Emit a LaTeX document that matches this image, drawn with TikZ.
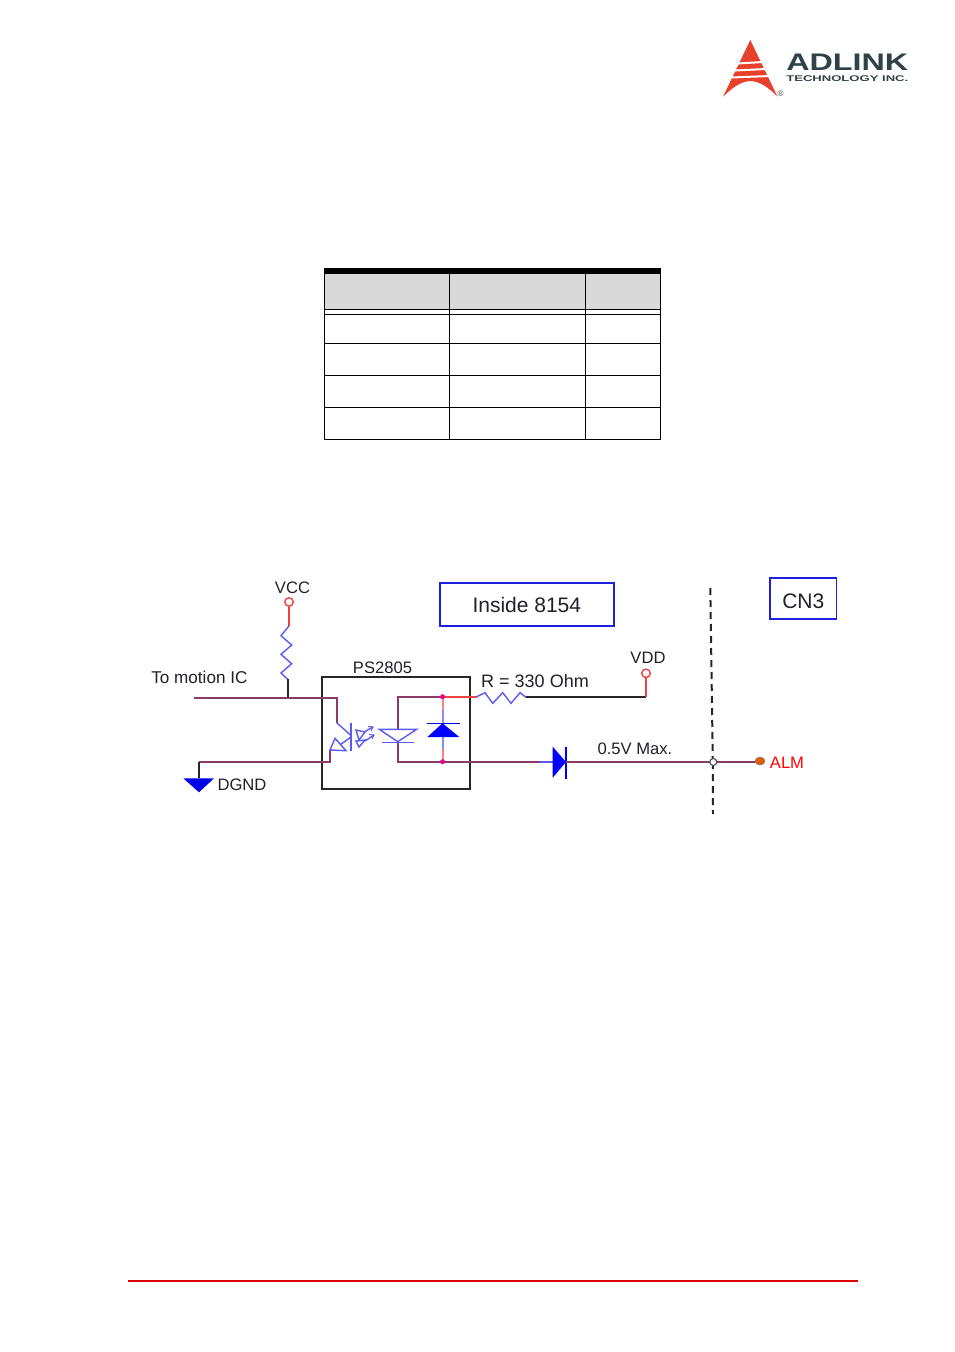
\documentclass[tikz,border=0pt]{standalone}
\usepackage{fontspec}
\usetikzlibrary{shapes.geometric}
\setmainfont{Liberation Sans}
\definecolor{wire}{HTML}{8B3A6B}
\definecolor{part}{HTML}{5A5AF0}
\definecolor{lead}{HTML}{F04040}
\definecolor{boxblue}{HTML}{2020E0}
\definecolor{ink}{HTML}{20202C}
\definecolor{logored}{HTML}{E8402C}
\definecolor{logodark}{HTML}{2F4248}
\begin{document}
\begin{tikzpicture}[x=1pt,y=-1pt,
    txt/.style={font=\fontsize{16.6}{18}\selectfont,text=ink,inner sep=0pt},
    titlebox/.style={draw=boxblue,line width=1.5pt,font=\fontsize{21}{24}\selectfont,text=ink,inner sep=0pt},
    terminal/.style={circle,draw=lead,line width=1.4pt,fill=white,minimum size=8.5pt,inner sep=0pt},
    solder/.style={circle,fill=magenta,minimum size=5pt,inner sep=0pt},
    wire/.style={draw=wire,line width=1.8pt},
    lead/.style={draw=lead,line width=1.8pt},
    partline/.style={draw=part,line width=1.4pt},
    blackwire/.style={draw=black!85,line width=1.8pt},
    tablerule/.style={draw=black,line width=1pt}]
  \useasboundingbox (0,0) rectangle (954,1352);
  % logo
  \fill[logored] (750.3,40) -- (777.5,96.7) .. controls (768,87) and (760,81.5) .. (750.3,81)
    .. controls (741,81.5) and (733,87) .. (723,96.7) -- cycle;
  \foreach \xa/\xb/\ya in {738/763/62,735/766/69,731/770/76}
    \fill[white] (\xa,\ya+.5) -- (\xb,\ya-1) -- (\xb,\ya+1) -- (\xa,\ya+2.5) -- cycle;
  \node[text=logodark,font=\bfseries,inner sep=0pt] (logoname) at (847.3,62.5)
    {\resizebox{122pt}{16.5pt}{ADLINK}};
  \node[text=logodark,font=\bfseries,inner sep=0pt] (logosub) at (847.3,78.5)
    {\resizebox{122pt}{5.8pt}{TECHNOLOGY INC.}};
  \node[text=black!70,inner sep=0pt,font=\fontsize{8}{8}\selectfont] (logomark) at (780.5,93.5) {®};
  % table
  \fill[black!15] (324.7,274) rectangle (660.3,309.3);
  \fill[black] (324.2,268.3) rectangle (660.8,274.3);
  \foreach \y in {309.3,314,343.3,375.3,407.3,439.3}
    \draw[tablerule] (324.7,\y) -- (660.3,\y);
  \foreach \x in {324.7,449.3,585.3,660.3}
    \draw[tablerule] (\x,274) -- (\x,439.8);
  % boxes
  \node[titlebox,minimum width=174pt,minimum height=43pt] (inside) at (526.8,604.6) {Inside 8154};
  \node[titlebox,minimum width=66.7pt,minimum height=41pt] (cnbox) at (803.3,598.5) {\raisebox{-9.8pt}[0pt][0pt]{CN3}};
  \node[draw=black!85,line width=2pt,minimum width=148pt,minimum height=111.7pt,inner sep=0pt] (chip) at (395.7,732.8) {};
  % labels
  \node[txt] (vcclabel) at (292.5,588) {VCC};
  \node[txt,font=\fontsize{17.1}{18}\selectfont] (icgate) at (199.4,677.5) {To motion IC};
  \node[txt] (chiplabel) at (382.5,667.3) {PS2805};
  \node[txt,font=\fontsize{18}{18}\selectfont] (rlabel) at (535,681) {R = 330 Ohm};
  \node[txt] (vddlabel) at (648,657.5) {VDD};
  \node[txt] (vmax) at (635,748.5) {0.5V Max.};
  \node[txt,text=red] (almlabel) at (787,762.5) {ALM};
  \node[txt] (gndlabel) at (242,785) {DGND};
  % named points
  \coordinate (rvcc) at (289,626);
  \coordinate (rvccend) at (287.7,679.3);
  \coordinate (tap) at (287.7,698);
  \coordinate (icend) at (194.3,698);
  \coordinate (ledin) at (336.7,722.7);
  \coordinate (ledout) at (330,750);
  \coordinate (gnd) at (198.7,778.3);
  \coordinate (rin) at (476.7,696.7);
  \coordinate (rout) at (526,697.3);
  \coordinate (dtop) at (397.7,696.7);
  \coordinate (dbot) at (397.7,761.7);
  \coordinate (dsin) at (552.7,762);
  \coordinate (dsout) at (566,762);
  \coordinate (cuttop) at (710.3,588);
  \coordinate (cutmid) at (712.8,762);
  \coordinate (cutbot) at (713,814);
  % boundary
  \draw[black!85,line width=2pt,dash pattern=on 7pt off 5pt] (cuttop) -- (cutmid);
  \draw[black!85,line width=2pt,dash pattern=on 7pt off 5pt] (cutmid) -- (cutbot);
  % wiring
  \draw[lead] (289,606) -- (rvcc);
  \draw[partline] (rvcc) -- (281,635.7) -- (291.7,645) -- (281,654.3) -- (291.7,663.7) -- (281,673) -- (rvccend);
  \draw[blackwire] (rvccend) -- (tap);
  \draw[wire] (icend) -- (tap) -- (336.7,698) -- (ledin);
  \draw[wire] (ledout) -- (330,762) -- (198.7,762);
  \draw[blackwire] (198.7,762) -- (gnd);
  \fill[blue!90!black] (183.3,778.3) -- (214,778.3) -- (199,792.3) -- cycle;
  % opto
  \draw[partline] (ledin) -- (351,735.5);
  \draw[partline] (351,722.7) -- (351,751);
  \draw[partline] (335,738.3) -- (346,750.7) -- (330,750) -- cycle;
  \draw[partline] (351,737) -- (340.5,744.5);
  \draw[partline] (356,730) -- (365,732) -- (359,740) -- cycle;
  \draw[partline] (356,741) -- (365,740) -- (359,747) -- cycle;
  \draw[partline] (364,732) -- (373,727);
  \draw[partline] (365,741) -- (374,735);
  \draw[partline,line width=1pt] (368,726.5) -- (373,727) -- (371,731);
  \draw[partline,line width=1pt] (369,734.5) -- (374,735) -- (372,739);
  % inner diodes
  \draw[wire] (442.5,696.7) -- (dtop) -- (397.7,729);
  \draw[wire] (397.7,742) -- (dbot) -- (442.5,761.7);
  \draw[partline] (379.3,729.3) -- (416.7,729.3) -- (397.7,741.7) -- cycle;
  \draw[partline] (381.7,742.5) -- (414.3,742.5);
  \draw[lead] (442.5,696.7) -- (rin);
  \draw[draw=lead!65,line width=2pt] (442.5,696.7) -- (442.5,710);
  \draw[draw=part!70,line width=2pt] (442.5,710) -- (442.5,749);
  \draw[draw=lead!65,line width=2pt] (442.5,749) -- (442.5,761.7);
  \draw[draw=blue,line width=1.4pt] (426.7,723.3) -- (460,723.3);
  \fill[blue] (442.5,723.3) -- (459.3,737) -- (427.3,737) -- cycle;
  % resistor
  \draw[partline] (rin) -- (485,692.7) -- (492.7,703.3) -- (502.7,692.7) -- (511,703.3) -- (520,692.7) -- (rout);
  \draw[blackwire] (rout) -- (646,697.3);
  \draw[lead] (646,697.3) -- (646,677.5);
  % output
  \draw[wire] (442.5,761.7) -- (540,761.7);
  \draw[draw=part,line width=1.8pt] (540,762) -- (dsin);
  \fill[blue] (552.7,746.7) -- (dsout) -- (552.7,777.7) -- cycle;
  \draw[draw=blue,line width=1.4pt] (566,746.7) -- (566,779.3);
  \draw[wire] (dsout) -- (760,762);
  % terminals
  \node[terminal] (vcc) at (289,602) {};
  \node[terminal] (vdd) at (646,673.3) {};
  \node[solder] (top) at (442.5,696.7) {};
  \node[solder] (bottom) at (442.5,761.7) {};
  \node[circle,draw=black!70,fill=white,line width=1.1pt,minimum size=7pt,inner sep=0pt] (cut) at (713.3,762) {};
  \node[ellipse,draw=black!50,fill=orange!80!red!90!black,line width=.5pt,minimum width=10pt,minimum height=8pt,inner sep=0pt] (alm) at (760,761) {};
  % footer
  \draw[draw=red!85!black,line width=2pt] (128,1280.5) -- (858,1280.5);
\end{tikzpicture}
\end{document}
